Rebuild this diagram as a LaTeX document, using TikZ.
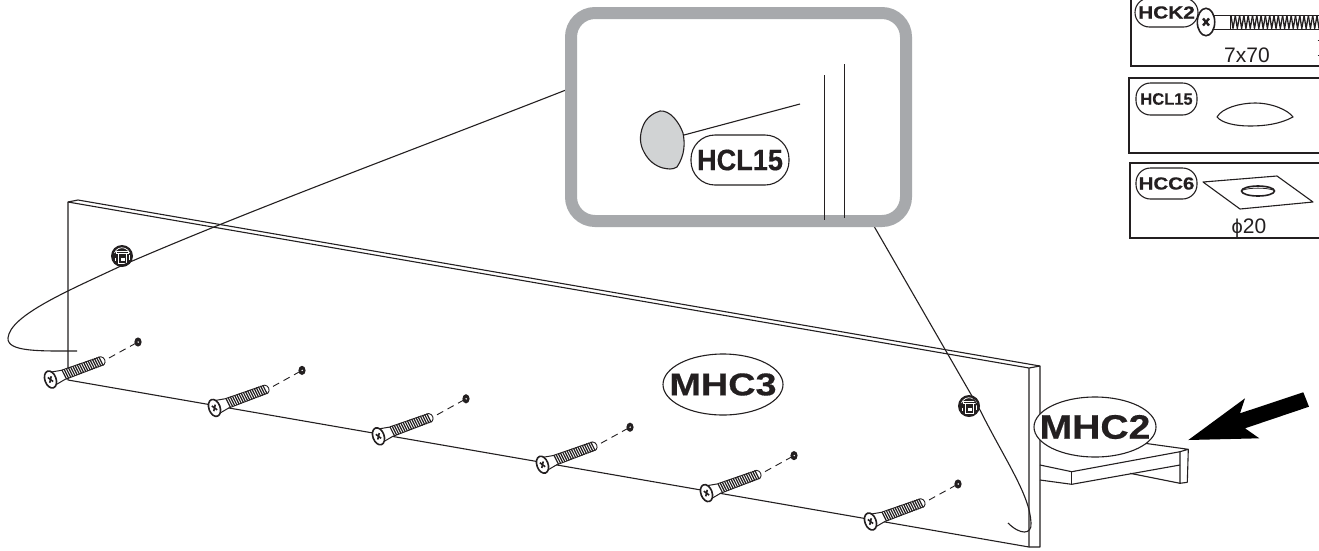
\documentclass[tikz,border=0pt]{standalone}
\usepackage{fontspec}
\usepackage{graphicx}
\usetikzlibrary{shapes.geometric}
\setmainfont{Liberation Sans}
\newfontfamily\labfont[BoldFeatures={FakeBold=0.45}]{Liberation Sans}
\definecolor{ink}{HTML}{231F20}
\definecolor{framegray}{HTML}{A7A9AC}
\definecolor{blobgray}{HTML}{D1D3D4}
\newcommand{\lab}[3]{\labfont\fontsize{#1}{#1}\selectfont\bfseries\scalebox{#2}[1]{#3}}
\tikzset{
  thin line/.style={draw=ink,line width=1.1pt,line join=round},
  panel/.style={draw=ink,line width=2pt},
  oval/.style={draw=ink,line width=1.1pt,fill=white,ellipse,minimum width=#1,inner sep=0pt},
  pill/.style={draw=ink,line width=1.1pt,fill=white,rounded corners=14.5pt,inner sep=0pt,text=ink},
  labeltext/.style={text=ink,inner sep=0pt},
  screw/.pic={
    \fill[white] (2,-7) -- (14,-4.5) -- (54,-4.5) -- (58,0) -- (54,4.5) -- (14,4.5) -- (2,7) -- cycle;
    \draw[thin line,line width=1pt] (2,-7) -- (14,-4.8) (2,7) -- (14,4.8);
    \foreach \t in {14,16.3,...,54}{
      \draw[ink,line width=1.2pt] (\t,-5) -- (\t+1.2,5);
    }
    \draw[ink,line width=.9pt] (14,-5) -- (55,-4.2) .. controls (58.5,-2.5) and (58.5,2.5) .. (55.5,4.2) -- (14,5);
    \draw[ink,line width=1.6pt,fill=white] (0,0) ellipse (5.6 and 8.8);
    \draw[ink,line width=1.6pt] (-1.8,-2.8) -- (1.8,2.8) (-1.8,2.8) -- (1.8,-2.8);
  },
  camfit/.pic={
    \fill[ink] (0,0) circle (11);
    \draw[white,line width=.7pt] (-7.5,-3) arc (200:340:8);
    \draw[white,line width=.8pt] (-6,-5) rectangle (6,-2.5);
    \draw[white,line width=.8pt] (-3.5,-2.5) -- (-3.5,7) -- (4,7) -- (4,-2.5);
    \draw[white,line width=.6pt] (-7,2) -- (-7,5) (7,-1) -- (7,4);
    \fill[white] (-1,2) rectangle (2.5,4.5);
  },
  bore/.pic={
    \fill[ink] (0,0) ellipse (3.6 and 4.6);
    \fill[white] (0.2,0) circle (.8);
  }
}
\begin{document}
\begin{tikzpicture}[x=1pt,y=-1pt]
\useasboundingbox (0,0) rectangle (1319,550);
\clip (0,0) rectangle (1319,550);
\fill[white] (0,0) rectangle (1319,550);

% board
\draw[thin line] (68,202) -- (78,200) -- (1040,366) -- (1040,547) -- (1029,547) -- (68,380) -- cycle;
\draw[thin line] (68,202) -- (1029,368) -- (1029,547) (1029,368) -- (1040,366);

% shelf
\draw[thin line] (1040,465) -- (1071.7,471.7) -- (1180,451.7) -- (1188.3,449.3) -- (1145,443.3);
\draw[thin line] (1040,480) -- (1071.7,484.3) -- (1180,465);
\draw[thin line] (1071.7,471.7) -- (1071.7,484.3);
\draw[thin line] (1180,451.7) -- (1180,483.3) -- (1187.3,482.3) -- (1188.3,449.3);
\draw[thin line] (1130,473.3) -- (1180,483.3);

% cam fittings
\pic at (122,256) {camfit};
\pic at (969,406) {camfit};

% screws and bores
\foreach \k in {0,...,5}{
  \coordinate (head\k) at ({50.5+164*\k},{379.5+28.4*\k});
  \coordinate (bore\k) at ({138+164*\k},{342+28.4*\k});
  \coordinate (tip\k) at ({109+164*\k},{358+28.4*\k});
  \draw[thin line,line width=.9pt,dash pattern=on 7pt off 5pt] (tip\k) -- (bore\k);
  \pic[rotate=20] at (head\k) {screw};
  \pic at (bore\k) {bore};
}

% leaders
\draw[thin line] (571,88) .. controls (400,155) and (250,210) .. (123,265)
  .. controls (70,290) and (10,315) .. (8,338) .. controls (7,352) and (40,351) .. (77,351);
\draw[thin line] (871,221) -- (980,410) .. controls (1005,460) and (1030,495) .. (1031,523)
  .. controls (1032,535) and (1020,535) .. (1008,523);

% detail frame
\draw[framegray,line width=12pt,fill=white,rounded corners=24pt] (571,13) rectangle (906,221);
\draw[thin line,fill=blobgray] (660,111) .. controls (670,110) and (679,122) .. (683,133)
  .. controls (685,143) and (685,155) .. (677,167) .. controls (672,170) and (668,169) .. (663,168)
  .. controls (655,166) and (648,160) .. (644,152) .. controls (640,145) and (639,136) .. (643,126)
  .. controls (646,118) and (653,113) .. (660,111) -- cycle;
\draw[thin line] (684,135) -- (800,104);
\draw[thin line,line width=.9pt] (824,75) -- (824,220) (844,64) -- (844,218);
\node[pill,minimum width=98pt,minimum height=50pt,rounded corners=24pt] (hcldetail) at (740,160) {\lab{29.5}{.92}{HCL15}};

% labels on the board
\node[oval=120pt,minimum height=61pt] (mhcthree) at (723,384.5) {};
\node[labeltext] (mhcthreetext) at (mhcthree.center) {\lab{31.5}{1.2}{MHC3}};
\node[oval=122pt,minimum height=60pt] (mhctwo) at (1095,427) {};
\node[labeltext] (mhctwotext) at (mhctwo.center) {\lab{34}{1.15}{MHC2}};

% arrow
\fill[black] (1188.3,440) -- (1245,398.3) -- (1240,413.3) -- (1303.3,392.3) -- (1309,406.7) -- (1245,428.3) -- (1259.3,438.3) -- cycle;

% parts panels
\draw[panel] (1131,-5) -- (1131,66) -- (1325,66);
\draw[panel] (1129,78) rectangle (1325,153);
\draw[panel] (1130,163) rectangle (1325,238);

% long screw
\draw[ink,line width=1pt] (1214,15) -- (1230,15) -- (1230,29) -- (1214,29);
\foreach \t in {1231,1235.3,...,1322}{
  \draw[ink,line width=1.3pt,line join=round] (\t,15.5) -- (\t+2,28.5) -- (\t+4.3,15.5);
}
\draw[ink,line width=.9pt] (1230,15) -- (1322,15) (1230,29) -- (1322,29);
\draw[ink,line width=1.6pt,fill=white] (1206,22) ellipse (8.7 and 13.7);
\draw[ink,line width=2.4pt] (1203,18.5) -- (1209,25.5) (1203,25.5) -- (1209,18.5);
\node[pill,minimum width=63pt,minimum height=29pt] (hck) at (1166.5,12.5) {\lab{17.5}{1.19}{HCK2}};
\node[labeltext,anchor=base] (sizea) at (1247,62) {\fontsize{21}{21}\selectfont 7x70};
\draw[ink,line width=1pt] (1317.5,40) -- (1319,40) (1317.5,55) -- (1319,55);

% dome
\node[pill,minimum width=61pt,minimum height=32pt] (hcl) at (1166.5,99) {\lab{16.5}{1}{HCL15}};
\draw[thin line] (1217,117) .. controls (1222,108) and (1240,103) .. (1255,103)
  .. controls (1272,103) and (1288,110) .. (1293,117)
  .. controls (1280,124) and (1265,126) .. (1250,126)
  .. controls (1235,126) and (1222,123) .. (1217,117) -- cycle;

% washer
\node[pill,minimum width=61pt,minimum height=31pt] (hcc) at (1166.5,183.5) {\lab{17.5}{1.17}{HCC6}};
\draw[thin line] (1203,182) -- (1277,176) -- (1313,202) -- (1240,209) -- cycle;
\draw[ink,line width=1.6pt] (1258,191) ellipse (16.5 and 5);
\draw[ink,line width=.8pt] (1243,190) .. controls (1250,187.5) and (1266,187.5) .. (1273,190);
\node[labeltext,anchor=base] (sizeb) at (1249,233) {{\fontsize{20}{20}\selectfont ϕ}\fontsize{21}{21}\selectfont 20};
\end{tikzpicture}
\end{document}
